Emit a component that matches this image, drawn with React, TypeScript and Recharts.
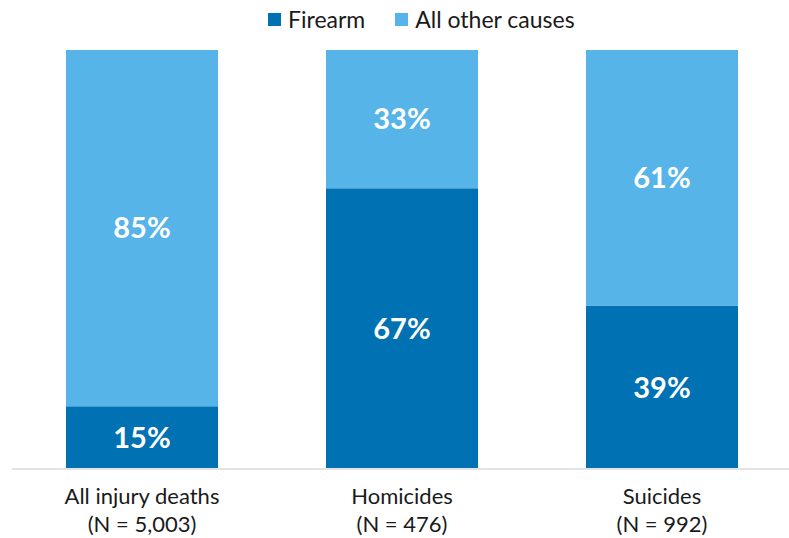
import React from "react";
import { BarChart, Bar, XAxis, YAxis, LabelList } from "recharts";

const categories = ["All injury deaths", "Homicides", "Suicides"];
const nLabels = ["(N = 5,003)", "(N = 476)", "(N = 992)"];
const firearm = [15, 67, 39];
const otherCauses = [85, 33, 61];

const DARK = "#0071B2";
const LIGHT = "#56B4E9";
const FONT = "Lato, 'Open Sans', sans-serif";

const data = categories.map((c, i) => ({
  name: c,
  n: nLabels[i],
  firearm: firearm[i],
  other: otherCauses[i],
}));

const CatTick = (props: any) => {
  const { x, y, payload, index } = props;
  return (
    <g>
      <text x={x} y={y + 27} textAnchor="middle" fontSize={22} fill="#1a1a1a" fontFamily={FONT}>
        {payload.value}
      </text>
      <text x={x} y={y + 55} textAnchor="middle" fontSize={22} fill="#1a1a1a" fontFamily={FONT}>
        {nLabels[index]}
      </text>
    </g>
  );
};

const labelStyle = { fill: "#ffffff", fontSize: 29, fontWeight: 700, fontFamily: FONT };

export default function App() {
  return (
    <div style={{ position: "absolute", left: 0, top: 0, width: 789, height: 538, background: "#fff", overflow: "hidden" }}>
      <div
        style={{
          position: "absolute",
          left: 268,
          top: 5,
          display: "flex",
          alignItems: "center",
          fontFamily: FONT,
          fontSize: 23,
          color: "#1a1a1a",
          height: 28,
          whiteSpace: "nowrap",
        }}
      >
        <span style={{ display: "inline-block", width: 13, height: 13, background: DARK, marginRight: 7 }} />
        <span style={{ marginRight: 30 }}>Firearm</span>
        <span style={{ display: "inline-block", width: 13, height: 13, background: LIGHT, marginRight: 7 }} />
        <span>All other causes</span>
      </div>
      <BarChart
        width={792}
        height={538}
        data={data}
        margin={{ top: 50, right: 0, left: 12, bottom: 0 }}
        barSize={152}
      >
        <XAxis
          dataKey="name"
          height={69}
          tickLine={false}
          axisLine={{ stroke: "#e3e3e3", strokeWidth: 2 }}
          tick={<CatTick />}
          interval={0}
        />
        <YAxis hide domain={[0, 100]} />
        <Bar dataKey="firearm" stackId="a" fill={DARK} isAnimationActive={false}>
          <LabelList dataKey="firearm" position="center" formatter={(v: any) => `${v}%`} style={labelStyle} />
        </Bar>
        <Bar dataKey="other" stackId="a" fill={LIGHT} isAnimationActive={false}>
          <LabelList dataKey="other" position="center" formatter={(v: any) => `${v}%`} style={labelStyle} />
        </Bar>
      </BarChart>
    </div>
  );
}
